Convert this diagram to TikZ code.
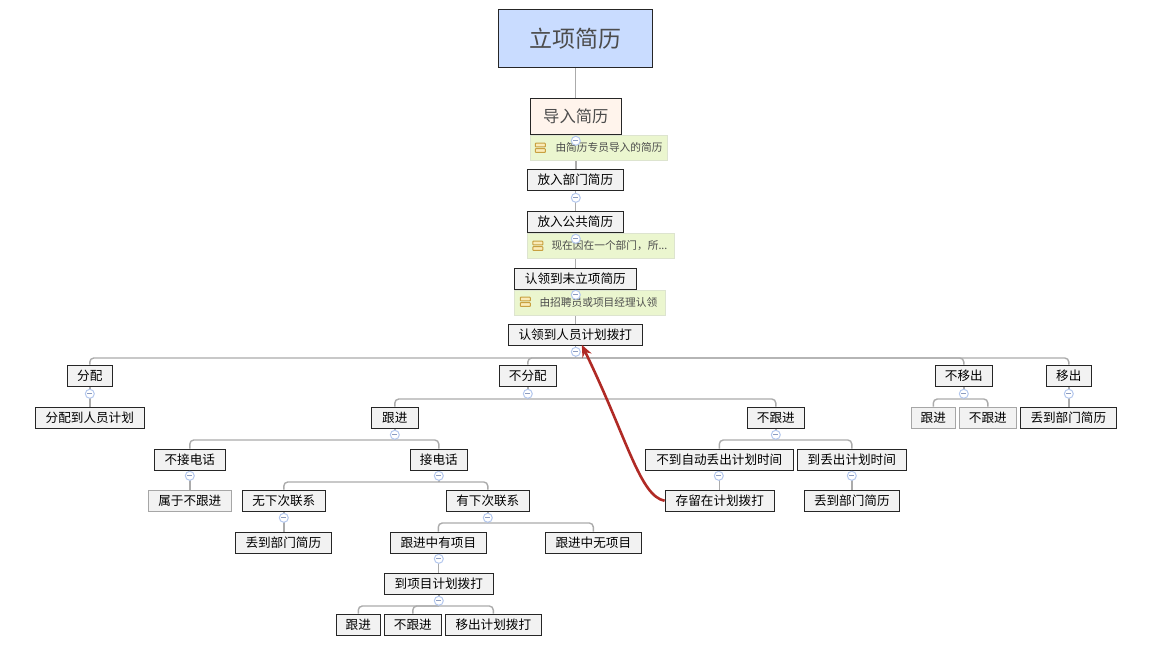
\documentclass[tikz,border=0pt]{standalone}
\usepackage{fontspec}
\setmainfont{Noto Sans CJK SC}
\usetikzlibrary{arrows.meta,backgrounds,shadows}
\definecolor{boxfill}{HTML}{F2F2F2}
\definecolor{linkgray}{HTML}{ABABAB}
\definecolor{arrowred}{HTML}{B02A25}
\definecolor{rootfill}{HTML}{C9DCFF}
\definecolor{importfill}{HTML}{FFF4EC}
\definecolor{notefill}{HTML}{EBF6CF}
\definecolor{noteline}{HTML}{DDE4CF}
\definecolor{iconline}{HTML}{C8A040}
\definecolor{iconfill}{HTML}{FBEBB8}
\definecolor{toggleline}{HTML}{B4C8EE}
\definecolor{toggleminus}{HTML}{8C9CC0}
\tikzset{
  box/.style={draw=black!85, fill=boxfill, line width=.9pt, inner sep=0pt, minimum height=21.5pt, font=\fontsize{12.6}{14}\selectfont,
    drop shadow={shadow xshift=.7pt, shadow yshift=-.7pt, opacity=.5, fill=black}},
  fadedbox/.style={box, draw=black!35},
  notebox/.style={draw=noteline, fill=notefill, line width=.9pt, inner sep=0pt, minimum height=24.5pt},
  notetext/.style={inner sep=0pt, anchor=west, text=black!70, font=\fontsize{10.7}{12}\selectfont},
  link/.style={draw=linkgray, line width=1.4pt, rounded corners=4pt},
  toggle/.style={circle, draw=toggleline, fill=white, line width=1pt, minimum size=9pt, inner sep=0pt,
    path picture={\draw[toggleminus, line width=1pt] (-2.5,0) -- (2.5,0);}},
  noteicon/.pic={
    \draw[draw=iconline, fill=iconfill, line width=1pt, rounded corners=.6pt] (-5,-4.6) rectangle (5,-.9);
    \draw[draw=iconline, fill=iconfill, line width=1pt, rounded corners=.6pt] (-5,.9) rectangle (5,4.6);
  }
}
\begin{document}
\begin{tikzpicture}[x=1pt,y=-1pt]
\useasboundingbox (.2,.2) rectangle (1150.2,670.2);

% main column
\node[box, fill=rootfill, minimum width=154.5pt, minimum height=58.5pt, text=black!70, font=\fontsize{23}{26}\selectfont] (root) at (575.5,38.5) {立项简历};
\node[box, fill=importfill, minimum width=91.5pt, minimum height=36.5pt, text=black!70, font=\fontsize{16.3}{19}\selectfont] (importcv) at (576,116.5) {导入简历};
\node[box, minimum width=96.5pt] (deptcv) at (575.5,180) {放入部门简历};
\node[box, minimum width=96.5pt] (publiccv) at (575.5,222) {放入公共简历};
\node[box, minimum width=122.5pt] (claimcv) at (575.5,279) {认领到未立项简历};
\node[box, minimum width=134.5pt] (claimplan) at (575.5,335) {认领到人员计划拨打};

% notes under the main column
\node[notebox, minimum width=137.5pt] (noteimport) at (599.2,148) {};
\node[notetext] (noteimporttext) at ([xshift=25.5pt]noteimport.west) {由简历专员导入的简历};
\pic at (540.5,148) {noteicon};
\node[notebox, minimum width=147.5pt] (notepublic) at (601.2,246) {};
\node[notetext] (notepublictext) at ([xshift=24.5pt]notepublic.west) {现在因在一个部门，所...};
\pic at (538,246) {noteicon};
\node[notebox, minimum width=151.5pt] (noteclaim) at (590.2,303) {};
\node[notetext] (noteclaimtext) at ([xshift=25.5pt]noteclaim.west) {由招聘员或项目经理认领};
\pic at (525.5,302) {noteicon};

% first level
\node[box, minimum width=45.5pt] (assign) at (90,376) {分配};
\node[box, minimum width=109.5pt] (assignplan) at (90,418) {分配到人员计划};
\node[box, minimum width=57.5pt] (noassign) at (528,376) {不分配};
\node[box, minimum width=57.5pt] (nomove) at (964,376) {不移出};
\node[box, minimum width=45.5pt] (moveout) at (1069,376) {移出};

% right side
\node[fadedbox, minimum width=44.5pt] (nomovefollow) at (933.5,418) {跟进};
\node[fadedbox, minimum width=57.5pt] (nomovedrop) at (988,418) {不跟进};
\node[box, minimum width=96.5pt] (moveoutdept) at (1068.5,418) {丢到部门简历};

% follow branch
\node[box, minimum width=46.5pt] (follow) at (395,418) {跟进};
\node[box, minimum width=71.5pt] (noanswer) at (190,460) {不接电话};
\node[box, minimum width=57.5pt] (answer) at (439,460) {接电话};
\node[fadedbox, minimum width=83.5pt] (asnofollow) at (190,501) {属于不跟进};
\node[box, minimum width=83.5pt] (nonext) at (284,501) {无下次联系};
\node[box, minimum width=83.5pt] (hasnext) at (488,501) {有下次联系};
\node[box, minimum width=96.5pt] (nonextdept) at (283.5,543) {丢到部门简历};
\node[box, minimum width=96.5pt] (hasproject) at (438.5,543) {跟进中有项目};
\node[box, minimum width=96.5pt] (noproject) at (593.5,543) {跟进中无项目};
\node[box, minimum width=109.5pt] (projectplan) at (439,584) {到项目计划拨打};
\node[box, minimum width=44.5pt] (planfollow) at (358.5,625) {跟进};
\node[box, minimum width=57.5pt] (plandrop) at (413,625) {不跟进};
\node[box, minimum width=96.5pt] (planmove) at (493.5,625) {移出计划拨打};

% no follow branch
\node[box, minimum width=57.5pt] (drop) at (776,418) {不跟进};
\node[box, minimum width=148.5pt] (beforetime) at (719.5,460) {不到自动丢出计划时间};
\node[box, minimum width=109.5pt] (aftertime) at (852,460) {到丢出计划时间};
\node[box, minimum width=109.5pt] (keepplan) at (720,501) {存留在计划拨打};
\node[box, minimum width=95.5pt] (afterdept) at (852,501) {丢到部门简历};

% connectors go behind the boxes
\begin{pgfonlayer}{background}
\foreach \a/\b in {root/importcv,importcv/deptcv,deptcv/publiccv,publiccv/claimcv,claimcv/claimplan,
  assign/assignplan,moveout/moveoutdept,noanswer/asnofollow,nonext/nonextdept,hasproject/projectplan,
  beforetime/keepplan,aftertime/afterdept}
  \draw[link] (\a.south) -- (\a.south |- \b.north);
\foreach \a/\d/\b in {claimplan/12/assign,claimplan/12/noassign,claimplan/12/nomove,claimplan/12/moveout,
  noassign/12/follow,noassign/12/drop,nomove/12/nomovefollow,nomove/12/nomovedrop,
  follow/11/noanswer,follow/11/answer,drop/11/beforetime,drop/11/aftertime,
  answer/11/nonext,answer/11/hasnext,hasnext/11/hasproject,hasnext/11/noproject,
  projectplan/11/planfollow,projectplan/11/plandrop,projectplan/11/planmove}{
  \draw[link] (\a.south) -- ++(0,\d) coordinate (bus);
  \draw[link] (bus) -| (\b.north);
}
\end{pgfonlayer}

% collapse marks
\foreach \n/\x/\y in {t1/576/141,t2/576/198,t3/576/239,t4/576/295,t5/576/352,
  t6/90/394,t7/528/394,t8/964/394,t9/1069/394,
  t10/395/435,t11/776/435,t12/190/476,t13/439/476,t14/719/476,t15/852/476,
  t16/284/518,t17/488/518,t18/439/559,t19/439/601}
  \node[toggle] (\n) at (\x,\y) {};

% jump back to the plan
\coordinate (backtoplan) at (582,345);
\draw[arrowred, line width=2.6pt, -{Stealth[length=12pt,width=10pt]}] (keepplan.west) .. controls (640,496) and (628,440) .. (backtoplan);
\end{tikzpicture}
\end{document}
